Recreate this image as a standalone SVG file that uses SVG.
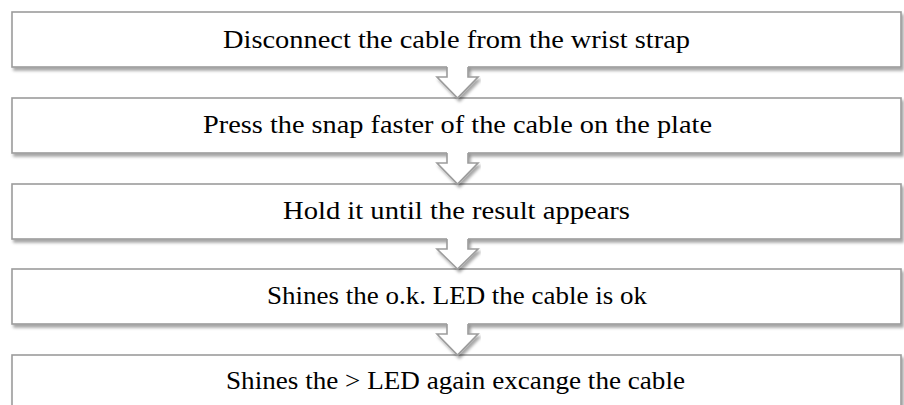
<svg xmlns="http://www.w3.org/2000/svg" width="904" height="405" viewBox="0 0 904 405">
  <defs>
    <filter id="sh" x="-5%" y="-20%" width="110%" height="160%">
      <feDropShadow dx="2" dy="3" stdDeviation="1.8" flood-color="#000" flood-opacity="0.35"/>
    </filter>
  </defs>
  <style>
    .box { fill: #ffffff; stroke: #9c9c9c; stroke-width: 1.6; filter: url(#sh); }
    .lbl { font-family: "Liberation Serif", "DejaVu Serif", serif; font-size: 25px; fill: #000000; text-anchor: middle; }
    .afill { fill: #ffffff; stroke: none; }
    .aline { fill: none; stroke: #9c9c9c; stroke-width: 1.6; stroke-linejoin: miter; }
    .ash { filter: url(#sh); }
  </style>
  <rect width="904" height="405" fill="#ffffff"/>
  <g id="node1">
    <rect class="box" x="12" y="12" width="889" height="55"/>
    <text class="lbl" x="456.5" y="48" textLength="467" lengthAdjust="spacingAndGlyphs">Disconnect the cable from the wrist strap</text>
  </g>
  <g id="node2">
    <rect class="box" x="12" y="98" width="889" height="55"/>
    <text class="lbl" x="457.5" y="133" textLength="509" lengthAdjust="spacingAndGlyphs">Press the snap faster of the cable on the plate</text>
  </g>
  <g id="node3">
    <rect class="box" x="12" y="184" width="889" height="55"/>
    <text class="lbl" x="456.5" y="219" textLength="347" lengthAdjust="spacingAndGlyphs">Hold it until the result appears</text>
  </g>
  <g id="node4">
    <rect class="box" x="12" y="269" width="889" height="55"/>
    <text class="lbl" x="457" y="304" textLength="380" lengthAdjust="spacingAndGlyphs">Shines the o.k. LED the cable is ok</text>
  </g>
  <g id="node5">
    <rect class="box" x="12" y="355" width="889" height="55"/>
    <text class="lbl" x="455.5" y="389" textLength="459" lengthAdjust="spacingAndGlyphs">Shines the &gt; LED again excange the cable</text>
  </g>
  <g id="connectors">
    <g class="ash">
      <path class="afill" d="M447,66 L447,77 L437,77 L457.5,98 L478,77 L468,77 L468,66 Z"/>
      <path class="aline" d="M447,67 L447,77 L437,77 L457.5,98 L478,77 L468,77 L468,67"/>
    </g>
    <g class="ash">
      <path class="afill" d="M447,152 L447,163 L437,163 L457.5,184 L478,163 L468,163 L468,152 Z"/>
      <path class="aline" d="M447,153 L447,163 L437,163 L457.5,184 L478,163 L468,163 L468,153"/>
    </g>
    <g class="ash">
      <path class="afill" d="M447,238 L447,249 L437,249 L457.5,269 L478,249 L468,249 L468,238 Z"/>
      <path class="aline" d="M447,239 L447,249 L437,249 L457.5,269 L478,249 L468,249 L468,239"/>
    </g>
    <g class="ash">
      <path class="afill" d="M447,323 L447,334 L437,334 L457.5,355 L478,334 L468,334 L468,323 Z"/>
      <path class="aline" d="M447,324 L447,334 L437,334 L457.5,355 L478,334 L468,334 L468,324"/>
    </g>
  </g>
</svg>
